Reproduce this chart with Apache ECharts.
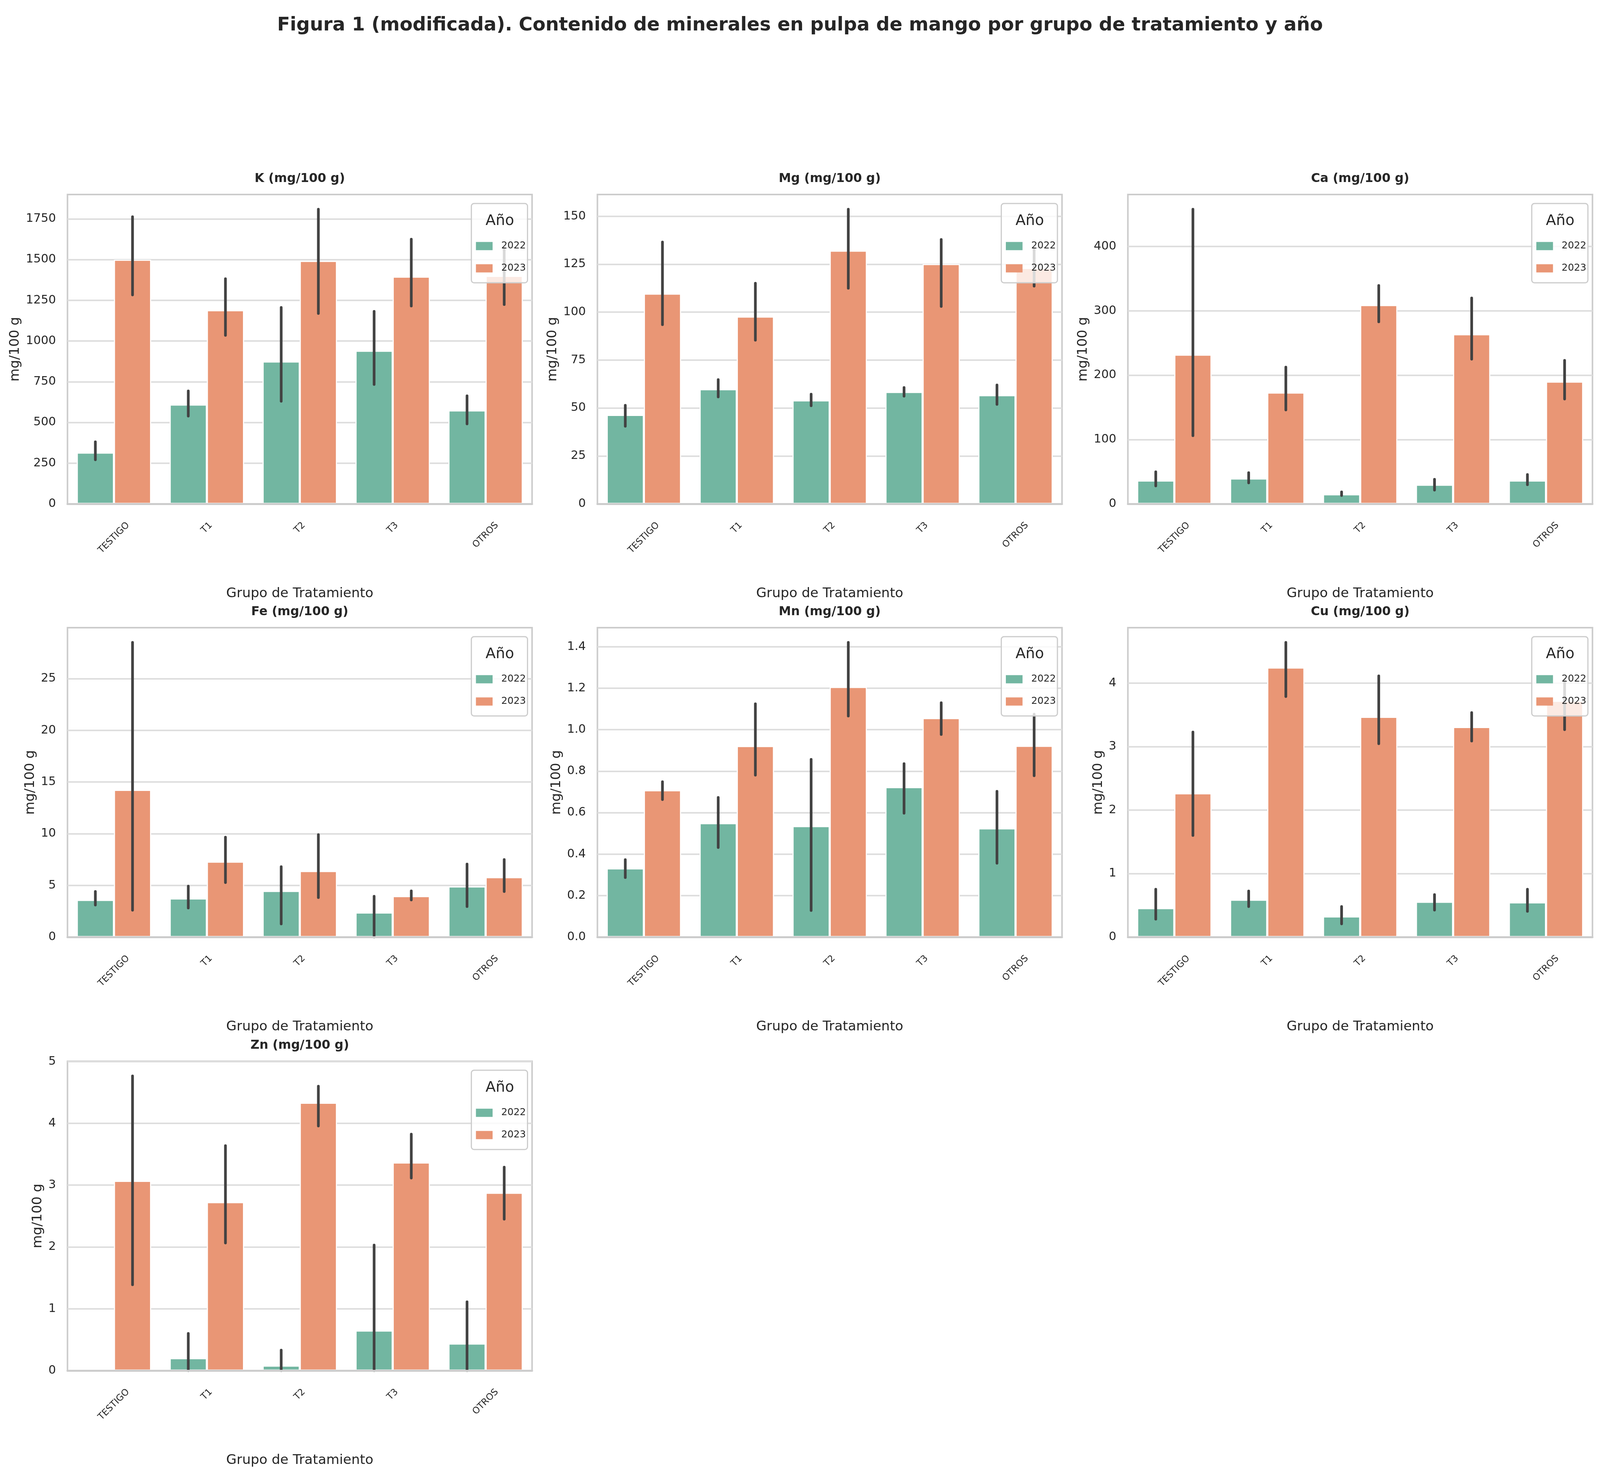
<!DOCTYPE html>
<html>
<head>
<meta charset="utf-8">
<script src="https://cdn.jsdelivr.net/npm/echarts@6/dist/echarts.min.js"></script>
<style>
  html, body { margin: 0; padding: 0; background: #fff; overflow: hidden; }
</style>
</head>
<body>
<div id="chart"></div>
<script>
// categories / years
const categories = ['TESTIGO', 'T1', 'T2', 'T3', 'OTROS']
const years = ['2022', '2023']

// K
const k2022 = [315, 610, 874, 940, 574]
const k2023 = [1499, 1189, 1492, 1395, 1400]
const kCi2022 = [[271, 381], [539, 693], [630, 1206], [733, 1182], [491, 663]]
const kCi2023 = [[1283, 1763], [1035, 1382], [1169, 1809], [1215, 1625], [1224, 1570]]

// Mg
const mg2022 = [46.4, 59.8, 54.0, 58.4, 56.7]
const mg2023 = [109.7, 97.7, 132.1, 125.1, 123.1]
const mgCi2022 = [[40.5, 51.4], [55.8, 64.8], [51.2, 57.2], [56.2, 60.7], [51.9, 62.0]]
const mgCi2023 = [[93.5, 136.6], [85.4, 115.1], [112.5, 153.7], [103, 137.9], [113.6, 133.2]]

// Ca
const ca2022 = [36.3, 39.5, 14.9, 29.8, 36.3]
const ca2023 = [232, 173, 309, 263.7, 190]
const caCi2022 = [[27.9, 49.8], [32.6, 48.4], [13, 18.6], [21.4, 38.1], [29.8, 45.6]]
const caCi2023 = [[106, 458], [146, 212.6], [283, 339.5], [225, 320], [163, 223]]

// Fe
const fe2022 = [3.59, 3.73, 4.46, 2.37, 4.89]
const fe2023 = [14.24, 7.29, 6.39, 3.96, 5.79]
const feCi2022 = [[3.1, 4.4], [2.81, 4.92], [1.27, 6.8], [0, 3.94], [2.95, 7.06]]
const feCi2023 = [[2.6, 28.5], [5.27, 9.66], [3.82, 9.9], [3.59, 4.46], [4.4, 7.49]]

// Mn
const mn2022 = [0.331, 0.549, 0.535, 0.723, 0.524]
const mn2023 = [0.708, 0.921, 1.206, 1.056, 0.922]
const mnCi2022 = [[0.287, 0.373], [0.432, 0.673], [0.128, 0.857], [0.597, 0.836], [0.356, 0.703]]
const mnCi2023 = [[0.663, 0.749], [0.781, 1.125], [1.066, 1.421], [0.977, 1.13], [0.778, 1.075]]

// Cu
const cu2022 = [0.456, 0.588, 0.325, 0.555, 0.546]
const cu2023 = [2.264, 4.245, 3.468, 3.308, 3.72]
const cuCi2022 = [[0.282, 0.753], [0.48, 0.725], [0.207, 0.48], [0.424, 0.668], [0.405, 0.753]]
const cuCi2023 = [[1.6, 3.228], [3.788, 4.64], [3.045, 4.113], [3.087, 3.534], [3.266, 4.056]]

// Zn (TESTIGO 2022 = 0, no error bar)
const zn2022 = [0, 0.2, 0.081, 0.647, 0.438]
const zn2023 = [3.07, 2.725, 4.333, 3.367, 2.877]
const znCi2022 = [null, [0, 0.6], [0, 0.33], [0, 2.03], [0, 1.113]]
const znCi2023 = [[1.389, 4.766], [2.064, 3.638], [3.957, 4.6], [3.115, 3.824], [2.45, 3.291]]

const panels = [
  { title: 'K (mg/100 g)', m22: k2022, m23: k2023, ci22: kCi2022, ci23: kCi2023, step: 250, dec: 0 },
  { title: 'Mg (mg/100 g)', m22: mg2022, m23: mg2023, ci22: mgCi2022, ci23: mgCi2023, step: 25, dec: 0 },
  { title: 'Ca (mg/100 g)', m22: ca2022, m23: ca2023, ci22: caCi2022, ci23: caCi2023, step: 100, dec: 0 },
  { title: 'Fe (mg/100 g)', m22: fe2022, m23: fe2023, ci22: feCi2022, ci23: feCi2023, step: 5, dec: 0 },
  { title: 'Mn (mg/100 g)', m22: mn2022, m23: mn2023, ci22: mnCi2022, ci23: mnCi2023, step: 0.2, dec: 1 },
  { title: 'Cu (mg/100 g)', m22: cu2022, m23: cu2023, ci22: cuCi2022, ci23: cuCi2023, step: 1, dec: 0 },
  { title: 'Zn (mg/100 g)', m22: zn2022, m23: zn2023, ci22: znCi2022, ci23: znCi2023, step: 1, dec: 0 }
]

// layout is measured on the 5951x3784 reference and mapped onto the viewport
// (the browser caps the width, so x and y get their own factor; fonts follow x)
const REF_W = 5951
const REF_H = 3784
const SX = window.innerWidth / REF_W
const SY = window.innerHeight / REF_H
const X = v => v * SX
const Y = v => v * SY
const F = v => v * SX

const gridLeft = [251, 2222, 4195]
const gridTop = [498, 1607, 2717]
const GW = 1728
const GH = 792

const FONT = '"DejaVu Sans", sans-serif'
const TXT = '#262626'
const C22 = '#72b6a1'
const C23 = '#e99675'
const ERR = '#424242'
const SPINE = '#cccccc'

const el = document.getElementById('chart')
el.style.width = window.innerWidth + 'px'
el.style.height = window.innerHeight + 'px'

const measure = (function () {
  const c = document.createElement('canvas').getContext('2d')
  return (s, size, weight) => {
    c.font = `${weight || 'normal'} ${size}px "DejaVu Sans"`
    return c.measureText(s).width
  }
})()

// text box top that puts the cap-height middle on a given y
const capTop = (yMid, size) => yMid - 0.42 * size

// rotated tick labels: pad top/right by half the width so every label hangs
// from the axis like matplotlib's ha='center', rotation=45
const xRich = {}
categories.forEach((c, j) => {
  const L = measure(c, F(34))
  xRich['c' + j] = { fontSize: F(34), fontFamily: FONT, color: TXT, padding: [L / 2, L / 2, 0, 0] }
})

function errBars(shift) {
  return function (params, api) {
    const j = api.value(0)
    const top = api.coord([j, api.value(2)])
    const bot = api.coord([j, api.value(1)])
    const bw = api.size([1, 0])[0]
    const x = top[0] + shift * bw
    return {
      type: 'line',
      shape: { x1: x, y1: top[1], x2: x, y2: bot[1] },
      style: { stroke: ERR, lineWidth: X(10), lineCap: 'round' }
    }
  }
}

function barData(vals) {
  // a zero bar would leave its white edge across the spine
  return vals.map(v => v === 0 ? { value: 0, itemStyle: { borderWidth: 0, opacity: 0 } } : v)
}

const grid = [], xAxis = [], yAxis = [], series = [], legend = []
const title = [{
  text: 'Figura 1 (modificada). Contenido de minerales en pulpa de mango por grupo de tratamiento y año',
  left: 'center', top: capTop(Y(62), F(70)), padding: 0,
  textStyle: { fontSize: F(70), fontWeight: 'bold', color: TXT, fontFamily: FONT }
}]

panels.forEach((p, i) => {
  const left = gridLeft[i % 3]
  const top = gridTop[Math.floor(i / 3)]
  const his = p.ci22.concat(p.ci23).filter(Boolean).map(d => d[1])
  const ymax = Math.max(...his, ...p.m22, ...p.m23) * 1.05

  let widest = 0
  for (let t = 0; t < ymax; t += p.step) widest = Math.max(widest, measure(t.toFixed(p.dec), F(44)))

  grid.push({
    left: X(left), top: Y(top), width: X(GW), height: Y(GH),
    show: true, borderColor: SPINE, borderWidth: 4
  })

  xAxis.push({
    type: 'category', gridIndex: i, data: categories, z: 5,
    axisLine: { show: true, lineStyle: { color: SPINE, width: Y(5) } },
    axisTick: { show: false }, splitLine: { show: false },
    axisLabel: {
      interval: 0, rotate: 45, align: 'center', verticalAlign: 'middle', margin: Y(45) + F(9),
      formatter: (v, j) => `{c${j}|${v}}`, rich: xRich
    },
    name: 'Grupo de Tratamiento', nameLocation: 'middle', nameGap: Y(225) - 0.34 * F(50),
    nameTextStyle: { fontSize: F(50), color: TXT, fontFamily: FONT }
  })

  yAxis.push({
    type: 'value', gridIndex: i, min: 0, max: ymax, interval: p.step,
    axisLine: { show: false }, axisTick: { show: false },
    splitLine: { show: true, showMinLine: false, showMaxLine: false, lineStyle: { color: '#dedede', width: Y(4) } },
    axisLabel: {
      margin: X(43), fontSize: F(44), color: TXT, fontFamily: FONT, showMaxLabel: false,
      formatter: v => v.toFixed(p.dec)
    },
    name: 'mg/100 g', nameLocation: 'middle', nameRotate: 90, nameGap: widest + X(57),
    nameTextStyle: { fontSize: F(50), color: TXT, fontFamily: FONT }
  })

  series.push(
    {
      type: 'bar', name: years[0], xAxisIndex: i, yAxisIndex: i, data: barData(p.m22),
      barGap: '0%', barCategoryGap: '20%', silent: true,
      itemStyle: { color: C22, borderColor: '#fff', borderWidth: X(4) }
    },
    {
      type: 'bar', name: years[1], xAxisIndex: i, yAxisIndex: i, data: barData(p.m23),
      barGap: '0%', barCategoryGap: '20%', silent: true,
      itemStyle: { color: C23, borderColor: '#fff', borderWidth: X(4) }
    },
    {
      type: 'custom', xAxisIndex: i, yAxisIndex: i, z: 3, silent: true,
      renderItem: errBars(-0.2), encode: { x: 0, y: [1, 2] },
      data: p.ci22.map((d, j) => d ? [j, d[0], d[1]] : null).filter(Boolean)
    },
    {
      type: 'custom', xAxisIndex: i, yAxisIndex: i, z: 3, silent: true,
      renderItem: errBars(0.2), encode: { x: 0, y: [1, 2] },
      data: p.ci23.map((d, j) => [j, d[0], d[1]])
    }
  )

  // legend box: 207 x 201 ref px, 17 px in from the right spine, 23 px below the top one
  const boxRight = left + GW - 17
  const itemH = F(40)
  legend.push({
    data: years, orient: 'vertical', right: X(REF_W - boxRight), top: Y(top + 23),
    padding: [Y(109) - itemH / 2, X(6), Y(37) - itemH / 2, X(17)],
    itemWidth: X(62), itemHeight: Y(21), itemGap: Y(57) - itemH,
    icon: 'rect', backgroundColor: 'rgba(255,255,255,0.8)', borderColor: SPINE,
    borderWidth: 3, borderRadius: X(10),
    itemStyle: { borderWidth: 0 }, selectedMode: false, z: 10,
    textStyle: { fontSize: F(36), lineHeight: itemH, color: TXT, fontFamily: FONT, padding: [0, 0, 0, X(25)] }
  })

  title.push({
    text: p.title, padding: 0,
    left: X(left + GW / 2) - measure(p.title, F(46), 'bold') / 2, top: capTop(Y(top - 43), F(46)),
    textStyle: { fontSize: F(46), fontWeight: 'bold', color: TXT, fontFamily: FONT }
  })
  title.push({
    text: 'Año', padding: 0, z: 11,
    left: X(boxRight - 103) - measure('Año', F(55)) / 2, top: capTop(Y(top + 65), F(55)),
    textStyle: { fontSize: F(55), fontWeight: 'normal', color: TXT, fontFamily: FONT }
  })
})

const chart = echarts.init(el, null, { renderer: 'canvas' })
chart.setOption({
  backgroundColor: '#fff',
  animation: false,
  textStyle: { fontFamily: FONT, color: TXT },
  title, grid, xAxis, yAxis, series, legend
})
</script>
</body>
</html>
